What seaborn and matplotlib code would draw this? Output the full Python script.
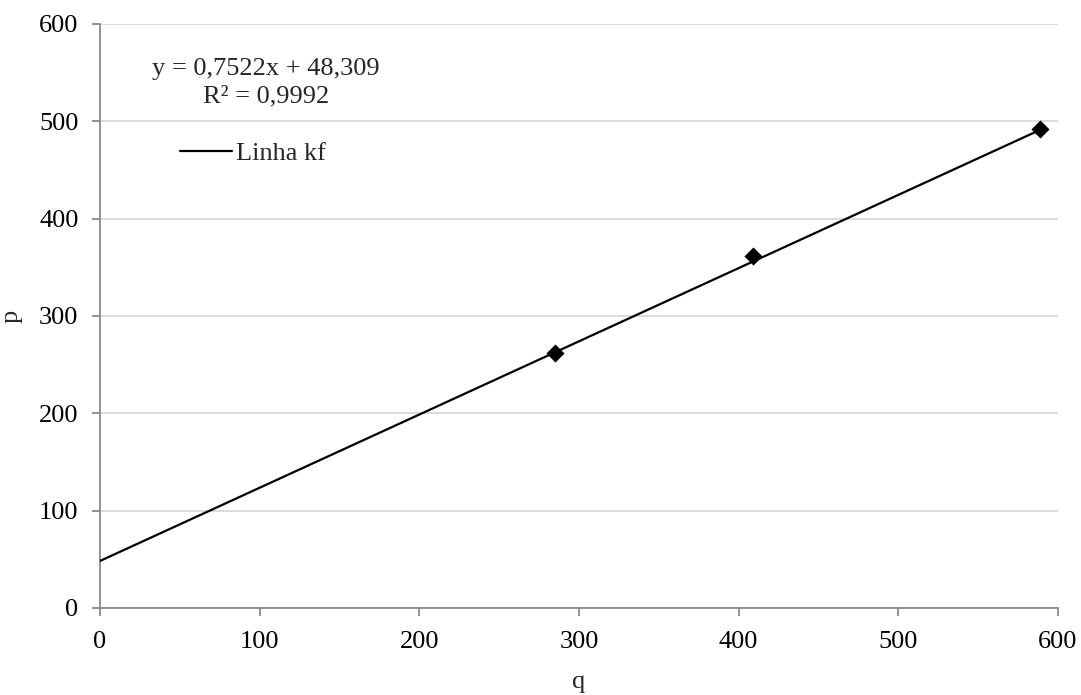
import numpy as np
import pandas as pd
import matplotlib
matplotlib.use("Agg")
import matplotlib.pyplot as plt
import seaborn as sns

# data
q = [285, 409, 589]
p = [262, 362, 492]
slope = 0.7522
intercept = 48.309
r2_text = "0,9992"
x_ticks = [0, 100, 200, 300, 400, 500, 600]
y_ticks = [0, 100, 200, 300, 400, 500, 600]

sns.set_theme(style="white")
plt.rcParams['font.family'] = ['Liberation Serif', 'DejaVu Serif']

axis_gray = '#898989'
grid_gray = '#d9d9d9'

df = pd.DataFrame({'q': q, 'p': p})
q_line = np.array([0, max(q)])
trend = pd.DataFrame({'q': q_line, 'p': slope * q_line + intercept})

fig = plt.figure(figsize=(10.81, 6.95), dpi=100)
ax = fig.add_axes([0.0925, 0.1252, 0.8862, 0.8403])

sns.lineplot(data=trend, x='q', y='p', ax=ax, color='black', linewidth=1.6,
             label='Linha kf', zorder=3)
sns.scatterplot(data=df, x='q', y='p', ax=ax, marker='D', s=85, color='black',
                edgecolor='black', linewidth=0, zorder=4, legend=False)

ax.set_xlim(0, 600)
ax.set_ylim(0, 600)
ax.set_xticks(x_ticks)
ax.set_yticks(y_ticks)
ax.yaxis.grid(True, color=grid_gray, linewidth=1.3)
ax.xaxis.grid(False)
ax.set_axisbelow(True)

for side in ['top', 'right']:
    ax.spines[side].set_visible(False)
for side in ['left', 'bottom']:
    ax.spines[side].set_color(axis_gray)
    ax.spines[side].set_linewidth(1.3)

ax.tick_params(axis='both', direction='out', length=5.5, width=1.3,
               color=axis_gray, labelsize=19, labelcolor='black')
ax.tick_params(axis='y', pad=10)
ax.tick_params(axis='x', pad=11)
ax.tick_params(left=True, bottom=True)

ax.set_xlabel('q', fontsize=19, labelpad=13)
ax.set_ylabel('p', fontsize=19, labelpad=12)

eq = f"y = {str(slope).replace('.', ',')}x + {str(intercept).replace('.', ',')}\nR² = {r2_text}"
ax.text(0.173, 0.899, eq, transform=ax.transAxes, ha='center', va='center',
        fontsize=19, linespacing=1.35)

ax.legend(loc='center left', bbox_to_anchor=(0.083, 0.779), frameon=False,
          fontsize=19, handlelength=2.0, handletextpad=0.15, borderpad=0,
          borderaxespad=0)

fig.savefig('out.png', dpi=100)
